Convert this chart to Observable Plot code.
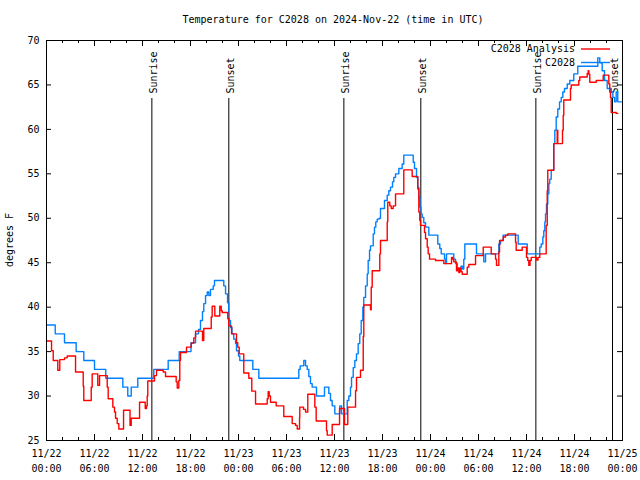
<!DOCTYPE html>
<html><head><meta charset="utf-8">
<script src="https://cdn.jsdelivr.net/npm/d3@7"></script>
<script src="https://cdn.jsdelivr.net/npm/@observablehq/plot@0.6"></script>
<style>
html,body{margin:0;padding:0;background:#fff;}
#chart svg{display:block;}
</style></head><body><div id="chart"></div>
<script>
// ---- data (hours since 2024-11-22 00:00 UTC) ----
const obsHours = [0.00,1.09,2.25,3.71,4.66,6.00,7.41,9.54,10.16,10.59,11.41,13.41,15.21,16.59,18.06,18.63,19.00,19.25,19.50,19.66,19.88,20.09,20.29,20.50,20.84,21.00,22.16,22.38,22.63,22.79,23.00,23.19,23.41,23.63,23.75,24.00,24.16,25.79,26.54,31.54,31.71,32.16,32.38,32.59,32.79,33.00,33.21,33.75,34.75,35.29,35.50,35.71,36.04,36.66,36.88,37.59,37.79,38.00,38.13,38.34,38.54,38.75,38.96,39.16,39.34,39.54,39.66,39.88,40.09,40.21,40.38,40.50,40.84,41.00,41.16,41.34,41.59,41.75,42.25,42.59,42.79,43.00,43.25,43.41,43.63,44.04,44.46,44.66,45.84,46.00,46.25,46.41,46.54,46.66,46.81,46.96,47.16,47.38,47.79,48.91,49.16,49.34,49.75,49.88,50.00,50.91,51.13,51.34,51.66,51.81,52.00,52.16,52.29,53.75,54.66,54.88,56.54,56.75,57.09,58.96,60.09,61.66,61.84,62.04,62.16,62.29,62.38,62.50,62.66,62.79,62.91,63.09,63.41,63.54,63.71,63.91,64.13,64.34,64.54,64.75,65.09,65.41,65.91,66.41,68.91,69.16,69.46,69.75,70.09,70.59,70.79,71.00,71.21,71.41,71.88];
const obsTemps = [38.0,37.0,36.0,35.0,34.0,33.0,32.0,31.0,30.0,31.0,32.0,33.0,34.0,35.0,36.0,37.0,37.5,38.5,39.5,40.4,41.3,41.7,41.3,42.0,42.4,43.0,42.4,41.5,40.5,38.5,37.7,37.0,36.4,35.9,35.1,34.5,34.0,33.0,32.0,33.0,33.4,34.0,33.4,33.0,32.2,31.4,31.0,30.0,31.0,30.3,29.5,28.9,28.0,28.9,28.0,29.5,30.0,31.0,32.1,33.2,34.0,34.75,35.9,37.0,38.5,40.0,41.1,42.4,43.75,45.25,46.4,46.9,48.25,49.0,49.6,49.9,50.0,51.1,52.0,52.6,53.1,53.5,54.1,54.6,55.0,55.6,56.1,57.1,56.3,55.6,54.6,53.5,52.4,51.25,50.5,50.1,49.5,49.0,48.1,47.1,46.6,46.0,45.4,44.9,46.0,45.4,44.9,44.3,44.1,44.6,44.3,45.4,47.1,46.0,45.1,46.0,47.1,47.5,48.1,47.1,46.0,46.75,47.1,47.9,48.6,49.6,50.5,51.6,52.75,53.9,54.4,55.4,58.4,59.9,61.4,62.3,63.1,63.6,64.2,64.6,65.1,65.5,66.25,67.1,68.05,67.5,66.6,65.5,64.6,64.2,63.6,63.1,64.2,63.1,63.1];

const anaHours = [0.00,0.63,0.84,1.41,1.66,2.25,2.59,3.63,4.59,4.66,5.59,5.71,6.41,6.63,7.59,7.71,8.29,8.50,8.63,8.84,9.04,9.63,10.44,10.59,11.63,12.34,12.50,12.59,12.66,13.50,13.75,14.59,14.88,16.21,16.34,16.54,16.66,16.75,17.50,18.09,18.41,18.63,19.50,19.66,20.59,20.71,21.04,21.66,21.84,21.96,22.66,22.79,23.13,23.75,23.91,24.09,24.66,25.29,25.66,26.13,27.59,27.71,27.84,28.00,28.71,29.66,30.71,31.13,31.34,31.63,31.66,32.13,32.38,32.66,33.54,33.71,35.00,35.09,35.71,36.63,37.25,37.66,38.63,38.75,39.25,39.59,39.66,40.50,40.59,40.71,41.66,41.75,42.59,42.66,42.91,43.09,43.34,43.63,44.66,45.71,46.41,46.54,46.66,46.75,47.25,47.38,47.59,47.71,47.88,48.63,49.66,50.63,50.79,50.91,51.25,51.38,51.54,51.66,51.79,51.96,52.59,52.79,53.63,54.59,55.59,56.13,56.25,56.54,56.63,57.09,57.38,57.66,58.63,58.71,59.46,60.00,60.16,60.29,60.44,60.59,61.25,61.44,61.66,62.46,62.59,62.66,63.41,63.84,63.91,64.50,64.59,64.66,65.50,65.59,66.54,66.66,67.59,67.71,67.79,67.91,68.71,69.59,70.29,70.41,70.50,70.59,71.21,71.41];
const anaTemps = [36.2,35.1,34.0,32.9,34.1,34.3,34.5,32.7,31.1,29.5,31.0,32.5,31.2,32.3,31.0,29.7,28.75,28.2,27.5,26.9,26.3,28.4,26.7,27.5,29.3,28.6,28.9,30.0,31.7,32.3,32.9,32.7,32.2,31.6,30.9,31.75,34.0,34.9,35.5,35.95,36.55,37.3,36.25,37.6,38.9,40.1,39.0,40.1,39.6,39.4,38.7,37.9,37.0,36.0,35.5,34.75,32.6,32.0,30.55,29.1,29.7,30.5,30.0,29.3,28.9,27.7,26.9,26.7,26.3,27.6,28.75,28.5,28.2,30.2,28.75,27.2,26.1,25.6,26.8,28.6,26.8,28.75,30.6,32.1,32.9,36.7,40.25,39.7,42.25,44.1,46.0,47.5,49.6,51.8,51.4,51.1,51.4,52.75,55.45,54.7,53.3,50.7,49.75,49.2,48.4,47.7,46.75,46.0,45.4,45.25,44.9,45.6,45.4,45.1,44.1,44.4,43.9,44.4,44.0,43.7,44.5,44.8,45.8,46.75,46.0,45.4,44.7,46.2,47.5,47.9,48.1,48.25,47.3,46.4,46.75,45.6,45.25,44.7,45.25,45.6,45.3,45.6,46.0,49.2,53.1,55.4,58.4,59.9,58.4,59.9,61.6,63.3,64.6,65.0,65.5,65.9,66.3,66.6,66.2,65.3,65.5,66.1,65.1,64.2,63.6,61.9,61.8,61.8];

const sunHours  = [13.17, 22.79, 37.17, 46.79, 61.17, 70.75];
const sunLabels = ["Sunrise","Sunset","Sunrise","Sunset","Sunrise","Sunset"];

const xTickHours  = [0,6,12,18,24,30,36,42,48,54,60,66,72];
const xMinorHours = [2,4,8,10,14,16,20,22,26,28,32,34,38,40,44,46,50,52,56,58,62,64,68,70];
const yTicks = [25,30,35,40,45,50,55,60,65,70];

const titleText = "Temperature for C2028 on 2024-Nov-22 (time in UTC)";
const yLabelText = "degrees F";
const seriesNames  = ["C2028 Analysis", "C2028"];
const seriesColors = ["#ff0000", "#0080ff"];

// ---- build tables ----
const t0 = Date.UTC(2024, 10, 22, 0, 0);
const toDate = h => new Date(t0 + h * 3600e3);
const obs = obsHours.map((h, i) => ({t: toDate(h), v: obsTemps[i]}));
const ana = anaHours.map((h, i) => ({t: toDate(h), v: anaTemps[i]}));
const sun = sunHours.map((h, i) => ({t: toDate(h), label: sunLabels[i]}));
const majors = xTickHours.map(toDate);
const minors = xMinorHours.map(toDate);
const fmt = d3.utcFormat("%m/%d\n%H:%M");

const W = 640, H = 480, mL = 46, mR = 18, mT = 40, mB = 40;
const FONT = "'DejaVu Sans Mono', 'Liberation Mono', monospace";

const chart = Plot.plot({
  width: W, height: H,
  marginLeft: mL, marginRight: mR, marginTop: mT, marginBottom: mB,
  style: {fontFamily: FONT, fontSize: "10px", background: "#fff", color: "#000", overflow: "visible"},
  x: {type: "utc", domain: [toDate(0), toDate(72)], label: null},
  y: {domain: [25, 70], label: null},
  marks: [
    // inward ticks on all four sides
    Plot.tickX(majors, {x: d => d, insetTop: 400 - 6, stroke: "#000"}),
    Plot.tickX(minors, {x: d => d, insetTop: 400 - 3, stroke: "#000"}),
    Plot.tickX(majors, {x: d => d, insetBottom: 400 - 6, stroke: "#000"}),
    Plot.tickX(minors, {x: d => d, insetBottom: 400 - 3, stroke: "#000"}),
    Plot.tickY(yTicks, {y: d => d, insetRight: 576 - 5, stroke: "#000"}),
    Plot.tickY(yTicks, {y: d => d, insetLeft: 576 - 5, stroke: "#000"}),
    // labels
    Plot.axisX(majors, {tickSize: 0, tickPadding: 6, tickFormat: fmt, lineHeight: 1.5, fontSize: 10, label: null}),
    Plot.axisY(yTicks, {tickSize: 0, tickPadding: 7, tickFormat: d => String(d), fontSize: 10, label: null}),
    // sun markers
    Plot.ruleX(sun, {x: "t", insetTop: 58, stroke: "#000", strokeWidth: 1}),
    Plot.text(sun, {x: "t", text: "label", frameAnchor: "top", dy: 53, dx: -2, rotate: -90, textAnchor: "start", fontSize: 10, fill: "#000"}),
    // series
    Plot.line(obs, {x: "t", y: "v", curve: "step-after", stroke: seriesColors[1], strokeWidth: 1.4}),
    Plot.line(ana, {x: "t", y: "v", curve: "step-after", stroke: seriesColors[0], strokeWidth: 1.4}),
    Plot.frame({stroke: "#000"})
  ]
});

const svg = d3.select(chart);
// title
svg.append("text").attr("x", W / 2 + 13).attr("y", 20).attr("text-anchor", "middle")
  .attr("dominant-baseline", "middle").attr("font-family", FONT).attr("font-size", 10).text(titleText);
// y label
svg.append("text").attr("transform", `translate(10,${mT + 200}) rotate(-90)`).attr("text-anchor", "middle")
  .attr("dominant-baseline", "middle").attr("font-family", FONT).attr("font-size", 10).text(yLabelText);
// legend
const leg = svg.append("g");
seriesNames.forEach((name, i) => {
  const y = 49 + i * 13.5;
  leg.append("text").attr("x", 575).attr("y", y).attr("text-anchor", "end").attr("dominant-baseline", "middle")
    .attr("font-family", FONT).attr("font-size", 10).text(name);
  leg.append("line").attr("x1", 581).attr("x2", 610).attr("y1", y).attr("y2", y)
    .attr("stroke", seriesColors[i]).attr("stroke-width", 1.4);
});

document.getElementById("chart").appendChild(chart);
</script>
</body></html>
